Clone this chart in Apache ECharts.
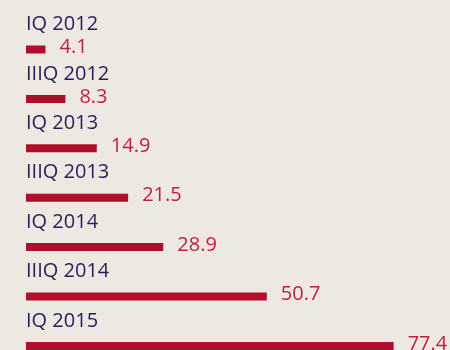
<!DOCTYPE html>
<html>
<head>
<meta charset="utf-8">
<script src="https://cdn.jsdelivr.net/npm/echarts@6/dist/echarts.min.js"></script>
<style>
  html, body { margin: 0; padding: 0; background: #ede8e2; overflow: hidden; width: 450px; height: 350px; }
  /* canvas is a little larger than the view so the last bar runs off the edge */
  #chart { width: 470px; height: 380px; }
</style>
</head>
<body>
<div id="chart"></div>
<script>
// Quarterly figures, oldest first
const quarters = ['IQ 2012', 'IIIQ 2012', 'IQ 2013', 'IIIQ 2013', 'IQ 2014', 'IIIQ 2014', 'IQ 2015'];
const values = [4.1, 8.3, 14.9, 21.5, 28.9, 50.7, 77.4];

const FONT = '"Open Sans", sans-serif';
const NAVY = '#241f5a';
const RED = '#ad0f2d';
const RED_TEXT = '#c01f3d';

const chart = echarts.init(document.getElementById('chart'), null, { renderer: 'canvas' });

chart.setOption({
  backgroundColor: '#ede8e2',
  animation: false,
  grid: { left: 26, top: 24.8, width: 427.5, height: 345.8, containLabel: false },
  xAxis: {
    type: 'value', min: 0, max: 90,
    show: false
  },
  yAxis: {
    type: 'category', data: quarters, inverse: true,
    show: false
  },
  series: [
    {
      // quarter names sit above each bar
      type: 'bar',
      data: values,
      barWidth: 8,
      barGap: '-100%',
      itemStyle: { color: 'rgba(0,0,0,0)' },
      label: {
        show: true,
        position: 'insideLeft',
        distance: 0,
        offset: [0, -25],
        formatter: '{b}',
        color: NAVY,
        fontFamily: FONT,
        fontSize: 20
      },
      silent: true,
      z: 1
    },
    {
      type: 'bar',
      data: values,
      barWidth: 8,
      barGap: '-100%',
      itemStyle: { color: RED },
      label: {
        show: true,
        position: 'right',
        distance: 14,
        offset: [0, -2],
        formatter: p => p.value.toFixed(1),
        color: RED_TEXT,
        fontFamily: FONT,
        fontSize: 20
      },
      z: 2
    }
  ]
});
</script>
</body>
</html>
